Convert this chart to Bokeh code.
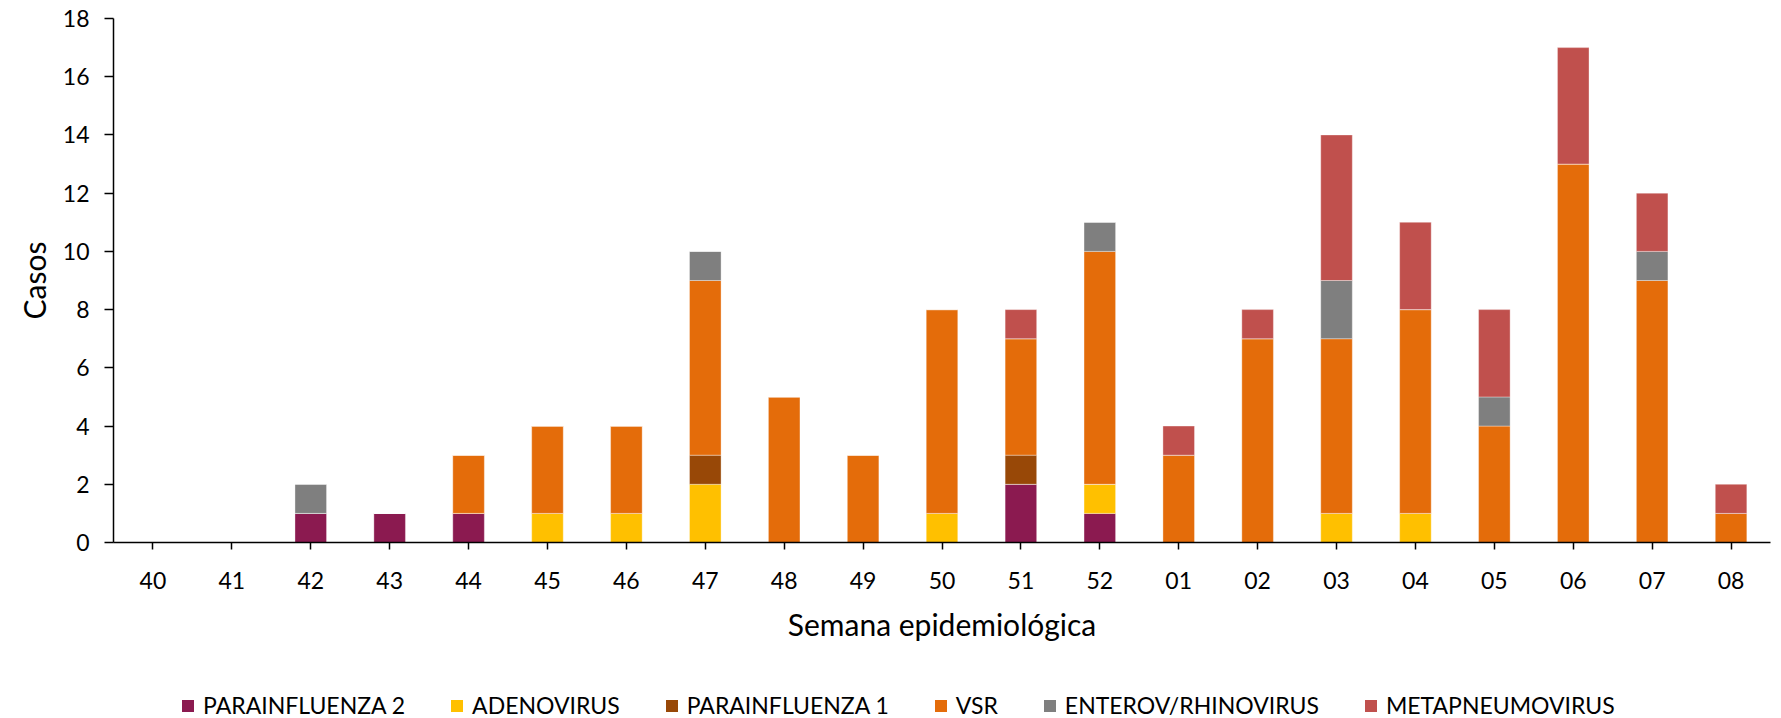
from bokeh.plotting import figure
from bokeh.layouts import column
from bokeh.models import FactorRange, Range1d, FixedTicker, Legend, LegendItem, ColumnDataSource
from bokeh.embed import file_html
from bokeh.resources import INLINE

weeks = ["40", "41", "42", "43", "44", "45", "46", "47", "48", "49", "50", "51", "52",
         "01", "02", "03", "04", "05", "06", "07", "08"]
series_names = ["PARAINFLUENZA 2", "ADENOVIRUS", "PARAINFLUENZA 1", "VSR",
                "ENTEROV/RHINOVIRUS", "METAPNEUMOVIRUS"]
#                   40 41 42 43 44 45 46 47 48 49 50 51 52 01 02 03 04 05 06  07 08
parainfluenza_2 = [0, 0, 1, 1, 1, 0, 0, 0, 0, 0, 0, 2, 1, 0, 0, 0, 0, 0, 0, 0, 0]
adenovirus      = [0, 0, 0, 0, 0, 1, 1, 2, 0, 0, 1, 0, 1, 0, 0, 1, 1, 0, 0, 0, 0]
parainfluenza_1 = [0, 0, 0, 0, 0, 0, 0, 1, 0, 0, 0, 1, 0, 0, 0, 0, 0, 0, 0, 0, 0]
vsr             = [0, 0, 0, 0, 2, 3, 3, 6, 5, 3, 7, 4, 8, 3, 7, 6, 7, 4, 13, 9, 1]
enterov_rhino   = [0, 0, 1, 0, 0, 0, 0, 1, 0, 0, 0, 0, 1, 0, 0, 2, 0, 1, 0, 1, 0]
metapneumo      = [0, 0, 0, 0, 0, 0, 0, 0, 0, 0, 0, 1, 0, 1, 1, 5, 3, 3, 4, 2, 1]
y_ticks = [0, 2, 4, 6, 8, 10, 12, 14, 16, 18]

colors = ["#8B1A50", "#FFC000", "#984807", "#E46C0A", "#7F7F7F", "#C0504D"]
keys = ["p2", "adeno", "p1", "vsr", "entero", "meta"]

source = ColumnDataSource(dict(weeks=weeks, p2=parainfluenza_2, adeno=adenovirus,
                               p1=parainfluenza_1, vsr=vsr, entero=enterov_rhino,
                               meta=metapneumo))

FONT = "Lato"

p = figure(width=1781, height=680, output_backend="svg", toolbar_location=None,
           x_range=FactorRange(*weeks, range_padding=0),
           y_range=Range1d(0, 18),
           min_border_left=113, min_border_top=18, min_border_right=11, min_border_bottom=138)

p.vbar_stack(keys, x="weeks", width=0.4, source=source, color=colors,
             line_color="white", line_alpha=0.35, line_width=1)

p.xgrid.visible = False
p.ygrid.visible = False
p.outline_line_color = None
p.background_fill_color = "white"
p.border_fill_color = "white"

# y axis
ya = p.yaxis[0]
ya.ticker = FixedTicker(ticks=y_ticks)
ya.major_tick_out = 9
ya.major_tick_in = 0
ya.minor_tick_out = 0
ya.minor_tick_in = 0
ya.axis_line_color = "black"
ya.axis_line_width = 1.5
ya.major_tick_line_color = "black"
ya.major_tick_line_width = 1.5
ya.major_label_text_font = FONT
ya.major_label_text_font_size = "23px"
ya.major_label_text_color = "black"
ya.major_label_standoff = 15
ya.axis_label = "Casos"
ya.axis_label_text_font = FONT
ya.axis_label_text_font_size = "30px"
ya.axis_label_text_font_style = "normal"
ya.axis_label_text_color = "black"
ya.axis_label_standoff = 8

# x axis
xa = p.xaxis[0]
xa.major_tick_out = 7
xa.major_tick_in = 0
xa.axis_line_color = "black"
xa.axis_line_width = 1.5
xa.major_tick_line_color = "black"
xa.major_tick_line_width = 1.5
xa.major_label_text_font = FONT
xa.major_label_text_font_size = "23px"
xa.major_label_text_color = "black"
xa.major_label_standoff = 22
xa.axis_label = "Semana epidemiológica"
xa.axis_label_text_font = FONT
xa.axis_label_text_font_size = "30px"
xa.axis_label_text_font_style = "normal"
xa.axis_label_text_color = "black"
xa.axis_label_standoff = 14

# legend strip below the chart (its frame is aligned with the chart's frame)
pl = figure(width=1781, height=38, output_backend="svg", toolbar_location=None,
            x_range=FactorRange(*weeks, range_padding=0), y_range=Range1d(0, 18),
            x_axis_location=None, y_axis_location=None,
            min_border_left=0, min_border_right=0, min_border_top=0, min_border_bottom=0)
pl.xgrid.visible = False
pl.ygrid.visible = False
pl.outline_line_color = None
pl.background_fill_color = "white"
pl.border_fill_color = "white"

# same stacked series, hidden: only their legend keys are shown
swatches = pl.vbar_stack(keys, x="weeks", width=0.4, source=source, color=colors, line_alpha=0)
for r in swatches:
    r.visible = False
items = [LegendItem(label=name, renderers=[r]) for name, r in zip(series_names, swatches)]
legend = Legend(items=items, orientation="horizontal", location=(67, -1),
                glyph_width=15, glyph_height=15, label_standoff=8, spacing=44,
                padding=0, margin=0, border_line_color=None, background_fill_alpha=0,
                label_text_font=FONT, label_text_font_size="23px", label_text_color="black")
pl.add_layout(legend, "center")

layout = column(p, pl, spacing=0)
open("out.html", "w").write(file_html(layout, INLINE))
